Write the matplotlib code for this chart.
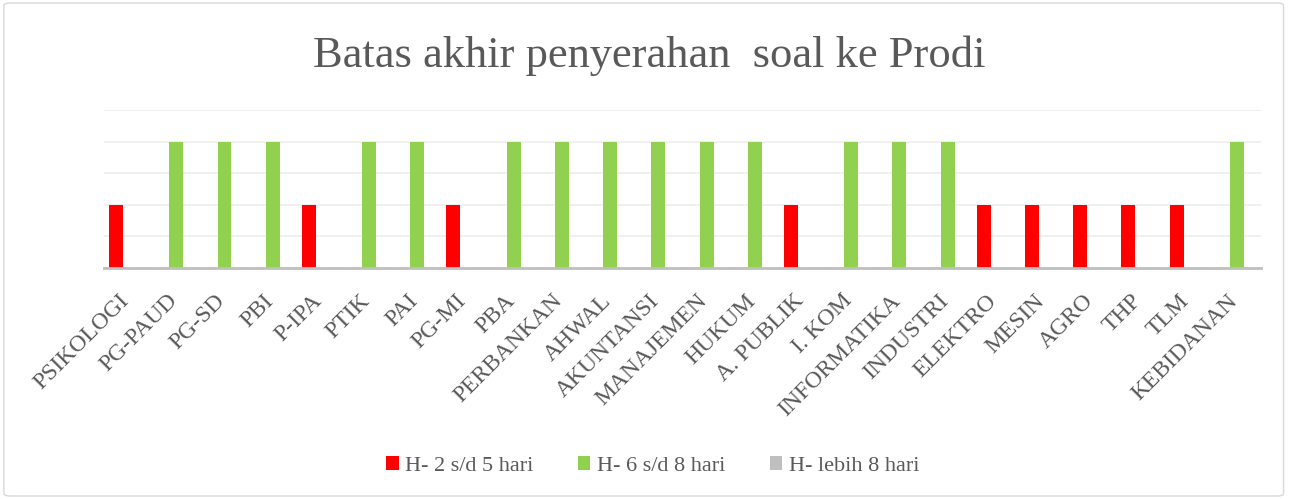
import matplotlib
matplotlib.use("Agg")
from matplotlib import pyplot as plt
from matplotlib.patches import FancyBboxPatch
from matplotlib.transforms import ScaledTranslation
import numpy as np

prodi = ["PSIKOLOGI", "PG-PAUD", "PG-SD", "PBI", "P-IPA", "PTIK", "PAI", "PG-MI",
         "PBA", "PERBANKAN", "AHWAL", "AKUNTANSI", "MANAJEMEN", "HUKUM", "A. PUBLIK",
         "I. KOM", "INFORMATIKA", "INDUSTRI", "ELEKTRO", "MESIN", "AGRO", "THP", "TLM",
         "KEBIDANAN"]
h_2_5 = [2, 0, 0, 0, 2, 0, 0, 2, 0, 0, 0, 0, 0, 0, 2, 0, 0, 0, 2, 2, 2, 2, 2, 0]
h_6_8 = [0, 4, 4, 4, 0, 4, 4, 0, 4, 4, 4, 4, 4, 4, 0, 4, 4, 4, 0, 0, 0, 0, 0, 4]
h_lebih_8 = [0] * 24
series_names = ["H- 2 s/d 5 hari", "H- 6 s/d 8 hari", "H- lebih 8 hari"]

plt.rcParams['font.family'] = ['Liberation Serif', 'DejaVu Serif']
txt = "#595959"

fig = plt.figure(figsize=(12.9, 4.99), dpi=100)
ax = fig.add_axes([0.0806, 0.4629, 0.8969, 0.3167])

x = np.arange(len(prodi))
w = 0.29
ax.bar(x - 0.25, h_2_5, w, color="#FF0000", label=series_names[0], zorder=3)
ax.bar(x, h_6_8, w, color="#92D050", label=series_names[1], zorder=3)
ax.bar(x + 0.25, h_lebih_8, w, color="#BFBFBF", label=series_names[2], zorder=3)

ax.set_xlim(-0.5, len(prodi) - 0.5)
ax.set_ylim(0, 5)
ax.set_yticks(range(6))
ax.set_yticklabels([])
ax.yaxis.grid(True, color="#EDEDED", linewidth=1.2, zorder=0)
ax.tick_params(axis='y', length=0)
ax.tick_params(axis='x', length=0, pad=16)
ax.set_xticks(x)
ax.set_xticklabels(prodi, rotation=45, ha='right', fontsize=17, color=txt)
# geser label sedikit ke kanan
shift = ScaledTranslation(5 / 100, 0, fig.dpi_scale_trans)
for lab in ax.get_xticklabels():
    lab.set_transform(lab.get_transform() + shift)
for s in ["top", "right", "left"]:
    ax.spines[s].set_visible(False)
ax.spines["bottom"].set_color("#BFBFBF")
ax.spines["bottom"].set_linewidth(2)
ax.spines["bottom"].set_zorder(4)

fig.text(0.503, 0.8657, "Batas akhir penyerahan  soal ke Prodi", ha='center', va='baseline',
         fontsize=32, color=txt)

leg = fig.legend(loc='center', bbox_to_anchor=(0.506, 0.066), ncol=3, frameon=False,
                 fontsize=16, handlelength=0.55, handleheight=0.55, handletextpad=0.3,
                 columnspacing=2.0)
for t in leg.get_texts():
    t.set_color(txt)

border = FancyBboxPatch((0.003, 0.006), 0.992, 0.988, boxstyle="round,pad=0,rounding_size=0.005",
                        transform=fig.transFigure, fill=False, edgecolor="#D9D9D9", linewidth=1)
fig.patches.append(border)

fig.savefig("out.png", dpi=100)
